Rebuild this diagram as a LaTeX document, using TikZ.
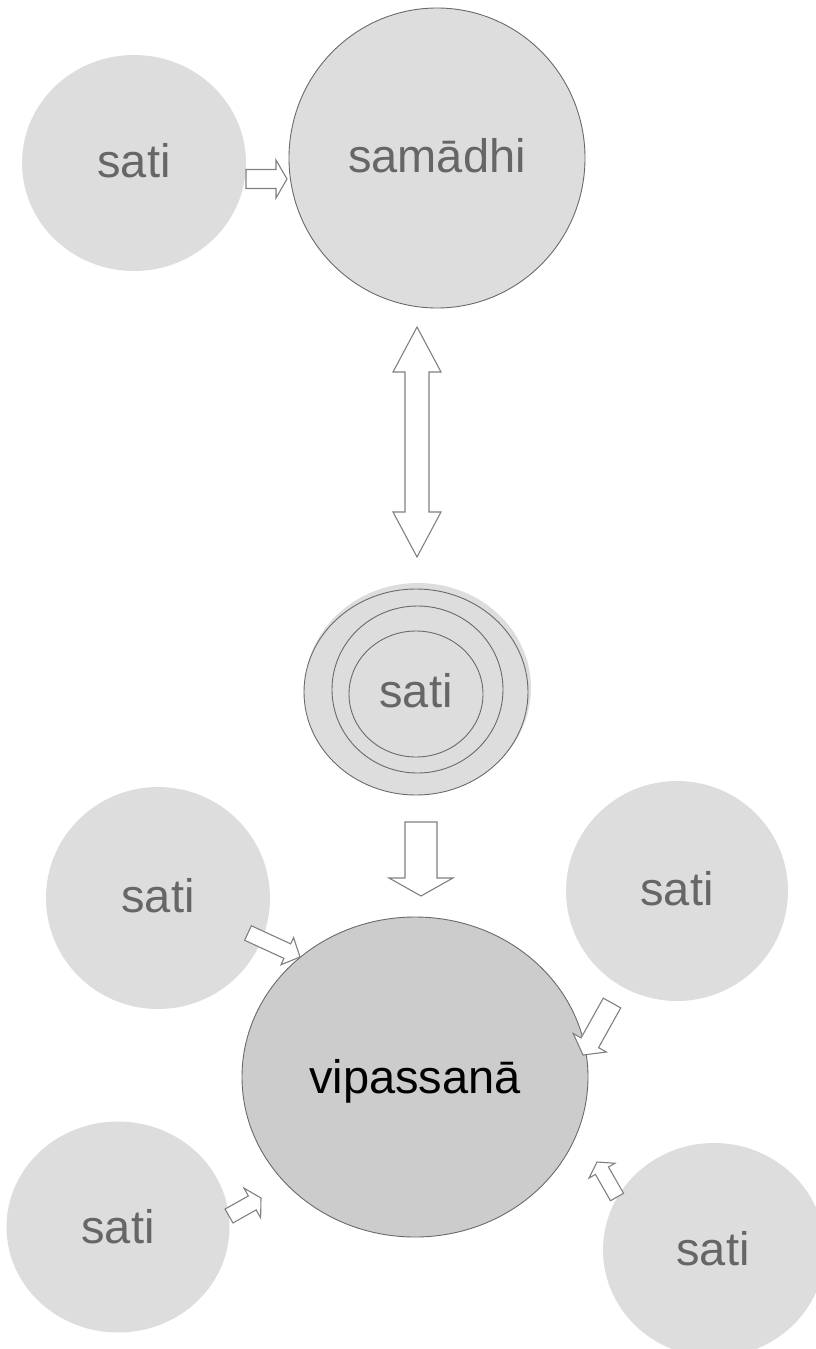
\documentclass[tikz,border=0pt]{standalone}
\usepackage{fontspec}
\setmainfont{Liberation Sans}
\usetikzlibrary{shapes.geometric,calc}

\definecolor{satifill}{HTML}{DDDDDD}
\definecolor{vipfill}{HTML}{CCCCCC}
\definecolor{txtgrey}{HTML}{666666}
\definecolor{rimgrey}{HTML}{6A6A6A}
\definecolor{arrowgrey}{HTML}{808080}

\tikzset{
  blob/.style={ellipse, fill=satifill, inner sep=0pt, outer sep=0pt},
  rim/.style={draw=rimgrey, line width=0.9pt},
  word/.style={text=txtgrey, inner sep=0pt, anchor=base, font=\fontsize{47}{50}\selectfont},
  vipword/.style={word, text=black},
  arrowline/.style={draw=arrowgrey, line width=1.1pt, fill=white, line join=miter},
}

% block arrow from tail (#1) to tip (#2):
% #3 shaft half-width, #4 head half-width, #5 head length
\newcommand\blockarrow[5]{%
  \coordinate (ba-base) at ($(#2)!#5!(#1)$);
  \draw[arrowline] ($(#1)!#3!90:(#2)$) -- ($(ba-base)!#3!-90:(#1)$)
    -- ($(ba-base)!#4!-90:(#1)$) -- (#2) -- ($(ba-base)!#4!90:(#1)$)
    -- ($(ba-base)!#3!90:(#1)$) -- ($(#1)!#3!-90:(#2)$) -- cycle;
}

\begin{document}
\begin{tikzpicture}[x=1pt, y=-1pt]
\useasboundingbox (0,0) rectangle (816,1349);

% top row
\node[blob, minimum width=224pt, minimum height=216pt] (sati-top) at (134,163) {};
\node[word] (sati-top-t) at (134,177) {sati};
\node[blob, rim, minimum width=296pt, minimum height=300pt] (samadhi) at (437,158) {};
\node[word] (samadhi-t) at (437,172) {samādhi};

% concentric sati
\node[blob, minimum width=226pt, minimum height=210pt] (ring-back) at (418,688) {};
\node[blob, rim, minimum width=224pt, minimum height=206pt] (ring-outer) at (416,692) {};
\node[blob, rim, minimum width=171pt, minimum height=167pt] (ring-mid) at (417.5,689.5) {};
\node[blob, rim, minimum width=134pt, minimum height=126pt] (ring-inner) at (416,694) {};
\node[word] (ring-t) at (416,707) {sati};

% vipassana and the surrounding sati
\node[ellipse, fill=vipfill, rim, inner sep=0pt, minimum width=346pt, minimum height=320pt] (vip) at (415,1077) {};
\node[vipword] (vip-t) at (415,1093) {vipassanā};

\node[blob, minimum width=224pt, minimum height=222pt] (sati-l) at (158,898) {};
\node[word] (sati-l-t) at (158,912) {sati};
\node[blob, minimum width=222pt, minimum height=220pt] (sati-r) at (677,891) {};
\node[word] (sati-r-t) at (677,905) {sati};
\node[blob, minimum width=223pt, minimum height=211pt] (sati-bl) at (118,1227) {};
\node[word] (sati-bl-t) at (118,1243) {sati};
\node[blob, minimum width=222pt, minimum height=214pt] (sati-br) at (714,1250) {};
\node[word] (sati-br-t) at (713,1265) {sati};

% arrow end points
\coordinate (a1-tail) at (246,179);  \coordinate (a1-tip) at (287,179);
\coordinate (dbl-top) at (417,327);  \coordinate (dbl-bot) at (417,557);
\coordinate (a2-tail) at (421,822);  \coordinate (a2-tip) at (421,896);
\coordinate (a3-tail) at (248,933);  \coordinate (a3-tip) at (300,957);
\coordinate (a4-tail) at (612,1003); \coordinate (a4-tip) at (583,1055);
\coordinate (a5-tail) at (229,1216); \coordinate (a5-tip) at (261,1198);
\coordinate (a6-tail) at (617,1197); \coordinate (a6-tip) at (597,1162);

\blockarrow{a1-tail}{a1-tip}{9.5pt}{19pt}{11pt}

\draw[arrowline] (dbl-top) -- ++(24,45) -- ++(-12,0) -- ++(0,140) -- ++(12,0)
  -- (dbl-bot) -- ++(-24,-45) -- ++(12,0) -- ++(0,-140) -- ++(-12,0) -- cycle;

\blockarrow{a2-tail}{a2-tip}{16pt}{32pt}{18pt}
\blockarrow{a3-tail}{a3-tip}{8pt}{15pt}{14pt}
\blockarrow{a4-tail}{a4-tip}{10pt}{19pt}{14pt}
\blockarrow{a5-tail}{a5-tip}{8pt}{17pt}{10pt}
\blockarrow{a6-tail}{a6-tip}{7.5pt}{15pt}{10pt}
\end{tikzpicture}
\end{document}
